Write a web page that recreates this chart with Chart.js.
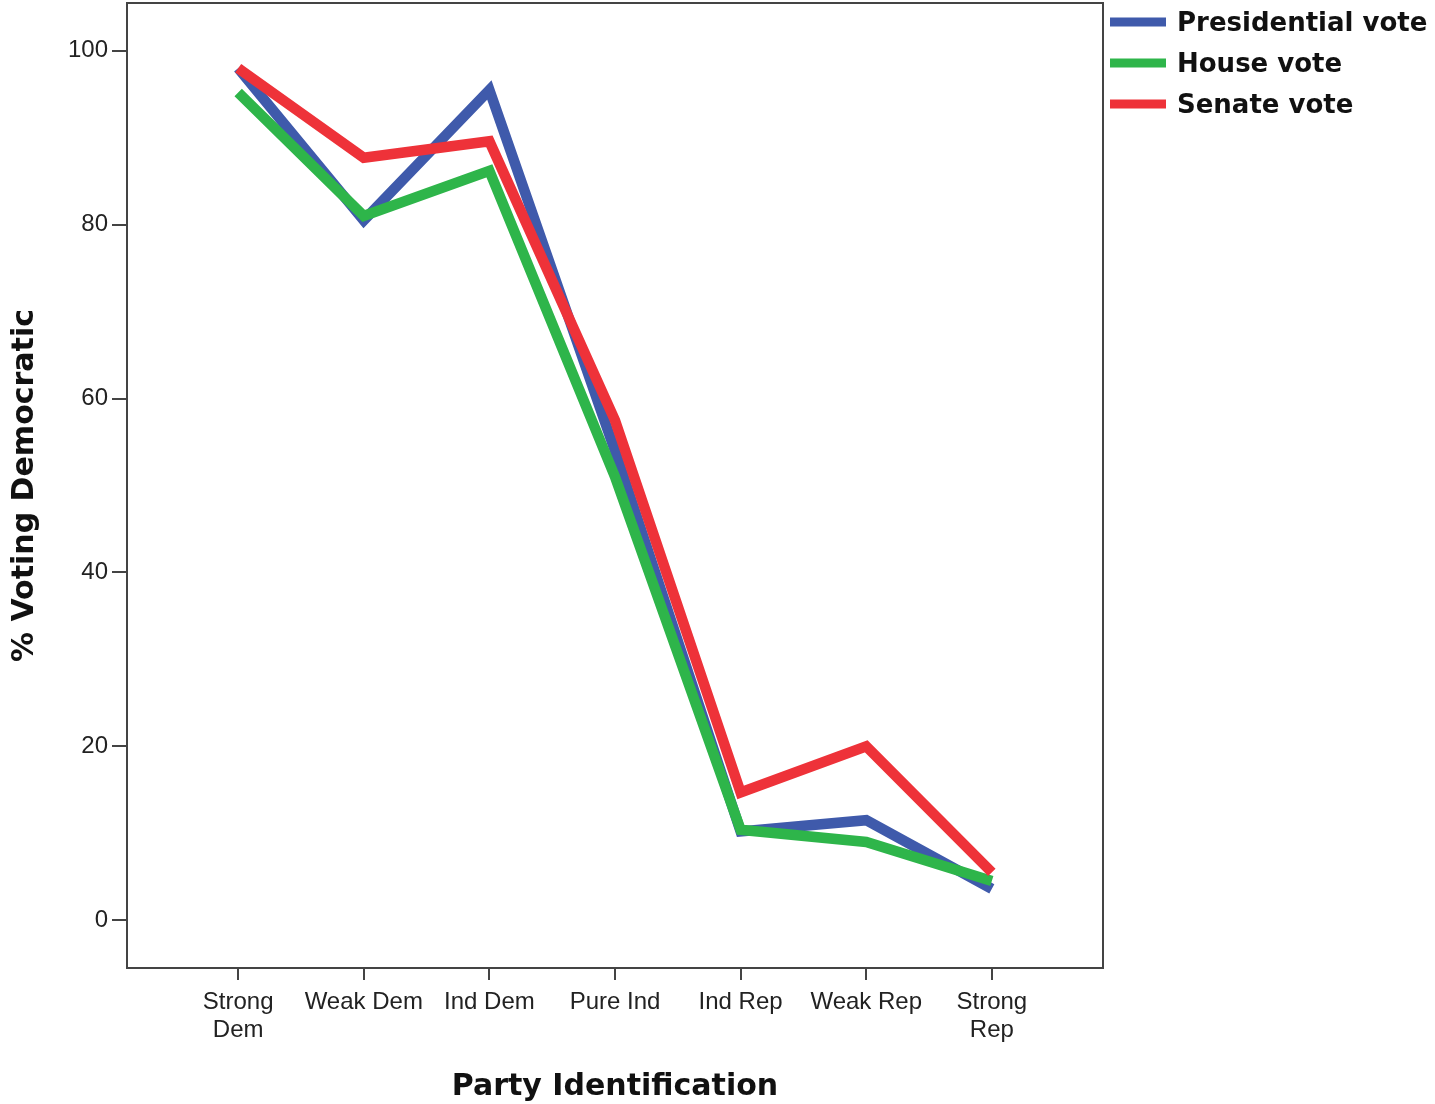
<!DOCTYPE html>
<html>
<head>
<meta charset="utf-8">
<script src="https://cdn.jsdelivr.net/npm/chart.js@4"></script>
<style>
  html, body { margin: 0; padding: 0; background: #fff; }
  canvas { display: block; }
</style>
</head>
<body>
<canvas id="chart" width="1435" height="1104"></canvas>
<script>
// ====== データ ======
const categories = ['Strong Dem', 'Weak Dem', 'Ind Dem', 'Pure Ind', 'Ind Rep', 'Weak Rep', 'Strong Rep'];
const tickLabels = [['Strong', 'Dem'], 'Weak Dem', 'Ind Dem', 'Pure Ind', 'Ind Rep', 'Weak Rep', ['Strong', 'Rep']];
const yTicks = [0, 20, 40, 60, 80, 100];

const presidentialVote = [98, 80.5, 95.5, 54, 10.2, 11.5, 3.6];
const houseVote = [95.2, 81, 86.2, 51, 10.4, 9, 4.5];
const senateVote = [98, 87.7, 89.6, 57.5, 14.7, 20, 5.5];

const seriesNames = ['Presidential vote', 'House vote', 'Senate vote'];
const seriesColors = ['#3f5aab', '#2eb54a', '#ee3239'];

function toPoints(values) {
    return values.map((v, i) => ({ x: i, y: v }));
}

// 枠線を描く
const framePlugin = {
    id: 'frame',
    beforeDatasetsDraw(chart) {
        const { ctx, chartArea: a } = chart;
        ctx.save();
        ctx.strokeStyle = '#444';
        ctx.lineWidth = 2;
        ctx.strokeRect(a.left, a.top, a.right - a.left, a.bottom - a.top);
        ctx.restore();
    }
};

// 右上の凡例
const legendPlugin = {
    id: 'sideLegend',
    afterDraw(chart) {
        const ctx = chart.ctx;
        ctx.save();
        chart.data.datasets.forEach((ds, i) => {
            const y = 22 + i * 41;
            ctx.fillStyle = ds.borderColor;
            ctx.fillRect(1110, y - 4.5, 56, 9);
            ctx.fillStyle = '#111';
            ctx.font = "bold 26px 'DejaVu Sans'";
            ctx.textBaseline = 'middle';
            ctx.fillText(ds.label, 1177, y + 2);
        });
        ctx.restore();
    }
};

const tickFont = { family: "'Liberation Sans', Arial, sans-serif", size: 24 };
const titleFont = { family: "'DejaVu Sans'", size: 30, weight: 'bold' };

new Chart(document.getElementById('chart'), {
    type: 'line',
    data: {
        datasets: [
            { label: seriesNames[0], data: toPoints(presidentialVote), borderColor: seriesColors[0], order: 3 },
            { label: seriesNames[1], data: toPoints(houseVote), borderColor: seriesColors[1], order: 2 },
            { label: seriesNames[2], data: toPoints(senateVote), borderColor: seriesColors[2], order: 1 }
        ].map(d => Object.assign(d, {
            borderWidth: 10.5,
            pointRadius: 0,
            tension: 0,
            fill: false,
            borderJoinStyle: 'miter',
            borderCapStyle: 'butt'
        }))
    },
    options: {
        responsive: false,
        animation: false,
        layout: { padding: { top: 3, right: 332, left: 0, bottom: 0 } },
        plugins: {
            legend: { display: false },
            tooltip: { enabled: false }
        },
        scales: {
            x: {
                type: 'linear',
                min: -0.885,
                max: 6.885,
                afterBuildTicks: (scale) => {
                    scale.ticks = categories.map((c, i) => ({ value: i }));
                },
                afterFit: (scale) => {
                    scale.height = 136;
                    scale.paddingLeft = 0;
                    scale.paddingRight = 0;
                },
                ticks: {
                    autoSkip: false,
                    maxRotation: 0,
                    padding: 9,
                    color: '#222',
                    font: Object.assign({ lineHeight: 1.15 }, tickFont),
                    callback: (value) => tickLabels[value]
                },
                grid: { drawOnChartArea: false, drawTicks: true, tickLength: 12, color: '#444', lineWidth: 2 },
                border: { display: false },
                title: {
                    display: true,
                    text: 'Party Identification',
                    color: '#111',
                    font: titleFont,
                    padding: { top: 0, bottom: -1 }
                }
            },
            y: {
                min: -5.5,
                max: 105.5,
                afterBuildTicks: (scale) => {
                    scale.ticks = yTicks.map(v => ({ value: v }));
                },
                afterFit: (scale) => {
                    scale.width = 127;
                    scale.paddingTop = 0;
                    scale.paddingBottom = 0;
                },
                ticks: {
                    padding: 4,
                    color: '#222',
                    font: tickFont
                },
                grid: { drawOnChartArea: false, drawTicks: true, tickLength: 15, color: '#444', lineWidth: 2 },
                border: { display: false },
                title: {
                    display: true,
                    text: '% Voting Democratic',
                    color: '#111',
                    font: titleFont,
                    padding: { top: 7, bottom: 0 }
                }
            }
        }
    },
    plugins: [framePlugin, legendPlugin]
});
</script>
</body>
</html>
